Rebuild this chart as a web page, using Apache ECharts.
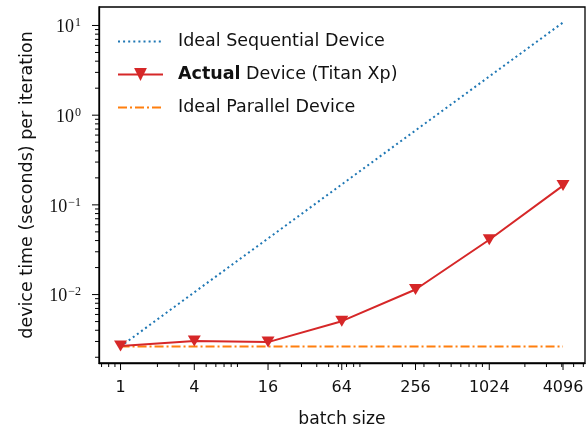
<!DOCTYPE html>
<html>
<head>
<meta charset="utf-8">
<script src="https://cdn.jsdelivr.net/npm/echarts@6/dist/echarts.min.js"></script>
<style>
html,body{margin:0;padding:0;background:#fff;}
#chart{width:587px;height:429px;}
</style>
</head>
<body>
<div id="chart"></div>
<script>
const batchSizes = [1, 4, 16, 64, 256, 1024, 4096];
const idealSequential = [0.00264, 0.0106, 0.0422, 0.169, 0.676, 2.70, 10.8];
const actualDevice = [0.00267, 0.00303, 0.00295, 0.00505, 0.0114, 0.0408, 0.164];
const idealParallel = [0.00264, 0.00264, 0.00264, 0.00264, 0.00264, 0.00264, 0.00264];
const seriesNames = ['Ideal Sequential Device', 'Actual Device (Titan Xp)', 'Ideal Parallel Device'];

const xMajorTicks = [1, 4, 16, 64, 256, 1024, 4096];
const xMinorTicks = [0.7, 0.8, 0.9, 2, 3, 5, 6, 7, 8, 9, 20, 30, 40, 50, 60, 70, 80, 90,
  200, 300, 400, 500, 600, 700, 800, 900, 2000, 3000, 4000, 5000, 6000];
const yMajorTicks = [0.01, 0.1, 1, 10];
const yMinorTicks = [0.002, 0.003, 0.004, 0.005, 0.006, 0.007, 0.008, 0.009,
  0.02, 0.03, 0.04, 0.05, 0.06, 0.07, 0.08, 0.09,
  0.2, 0.3, 0.4, 0.5, 0.6, 0.7, 0.8, 0.9,
  2, 3, 4, 5, 6, 7, 8, 9];

const X_MIN = 0.667, X_MAX = 6192;
const Y_MIN = 0.001726, Y_MAX = 16.07;

const SANS = 'DejaVu Sans';
const SERIF = 'Liberation Serif';

function pairs(ys) { return batchSizes.map((x, i) => [x, ys[i]]); }

function tickSeries(values, dim, len) {
  return {
    type: 'custom', silent: true, clip: false, z: 10,
    data: values.map(v => dim === 'x' ? [v, Y_MIN] : [X_MIN, v]),
    renderItem: function (params, api) {
      const cs = params.coordSys;
      const p = api.coord([api.value(0), api.value(1)]);
      if (dim === 'x') {
        const y0 = cs.y + cs.height;
        return { type: 'line', shape: { x1: p[0], y1: y0, x2: p[0], y2: y0 + len },
          style: { stroke: '#000', lineWidth: 1 } };
      }
      const x0 = cs.x;
      return { type: 'line', shape: { x1: x0, y1: p[1], x2: x0 - len, y2: p[1] },
        style: { stroke: '#000', lineWidth: 1 } };
    }
  };
}

const chart = echarts.init(document.getElementById('chart'), null, { renderer: 'canvas' });
chart.setOption({
  animation: false,
  backgroundColor: '#fff',
  grid: { left: 99, right: 2, top: 7, bottom: 66, show: true, borderColor: '#000', borderWidth: 1.3,
    backgroundColor: 'transparent', containLabel: false, outerBoundsMode: 'none' },
  legend: {
    data: [
      { name: seriesNames[0], itemStyle: { opacity: 0 } },
      { name: seriesNames[1] },
      { name: seriesNames[2], itemStyle: { opacity: 0 } }
    ],
    orient: 'vertical',
    left: 112, top: 26,
    itemWidth: 45, itemHeight: 16, itemGap: 12,
    textStyle: {
      fontFamily: SANS, fontSize: 17.5, color: '#111', lineHeight: 21, padding: [0, 0, 0, 10],
      rich: { b: { fontFamily: SANS, fontSize: 17.5, fontWeight: 'bold', color: '#111', lineHeight: 21 } }
    },
    formatter: function (name) {
      if (name.indexOf('Actual') === 0) return '{b|Actual}' + name.slice(6);
      return name;
    }
  },
  xAxis: {
    type: 'log', logBase: 4, min: X_MIN, max: X_MAX,
    name: 'batch size', nameLocation: 'middle', nameGap: 48,
    nameTextStyle: { fontFamily: SANS, fontSize: 17.2, color: '#111' },
    axisLine: { show: true, lineStyle: { color: '#000', width: 1.3 } },
    axisTick: { show: false }, minorTick: { show: false },
    splitLine: { show: false },
    axisLabel: {
      margin: 17, fontFamily: SANS, fontSize: 16, color: '#111',
      showMinLabel: false, showMaxLabel: false, hideOverlap: false,
      formatter: function (v) {
        const e = Math.log(v) / Math.log(4);
        if (Math.abs(e - Math.round(e)) > 1e-6) return '';
        return String(Math.round(v));
      }
    }
  },
  yAxis: {
    type: 'log', logBase: 10, min: Y_MIN, max: Y_MAX,
    name: 'device time (seconds) per iteration', nameLocation: 'middle', nameGap: 63,
    nameTextStyle: { fontFamily: SANS, fontSize: 17.5, color: '#111' },
    axisLine: { show: true, lineStyle: { color: '#000', width: 1.3 } },
    axisTick: { show: false }, minorTick: { show: false },
    splitLine: { show: false },
    axisLabel: {
      margin: 18, color: '#111', padding: [4, 0, 0, 0],
      showMinLabel: false, showMaxLabel: false,
      formatter: function (v) {
        const e = Math.log10(v);
        if (Math.abs(e - Math.round(e)) > 1e-6) return '';
        const r = Math.round(e);
        return '{b|10}{s|' + (r < 0 ? '\u2212' + (-r) : String(r)) + '}';
      },
      rich: {
        b: { fontFamily: SERIF, fontSize: 18, color: '#111' },
        s: { fontFamily: SERIF, fontSize: 12, color: '#111', padding: [0, 0, 9, 1] }
      }
    }
  },
  series: [
    {
      name: seriesNames[0], type: 'line', data: pairs(idealSequential),
      symbol: 'none', color: '#1f77b4',
      lineStyle: { color: '#1f77b4', width: 2, type: [2, 3.1] }, z: 2
    },
    {
      name: seriesNames[1], type: 'line', data: pairs(actualDevice),
      symbol: 'triangle', symbolRotate: 180, symbolSize: [13, 11], color: '#d62728',
      itemStyle: { color: '#d62728' },
      lineStyle: { color: '#d62728', width: 2 }, z: 4
    },
    {
      name: seriesNames[2], type: 'line', data: pairs(idealParallel),
      symbol: 'none', color: '#ff7f0e',
      lineStyle: { color: '#ff7f0e', width: 2, type: [9, 3, 2, 3] }, z: 3
    },
    tickSeries(xMajorTicks, 'x', 7),
    tickSeries(xMinorTicks, 'x', 4),
    tickSeries(yMajorTicks, 'y', 7),
    tickSeries(yMinorTicks, 'y', 4)
  ]
});
</script>
</body>
</html>
